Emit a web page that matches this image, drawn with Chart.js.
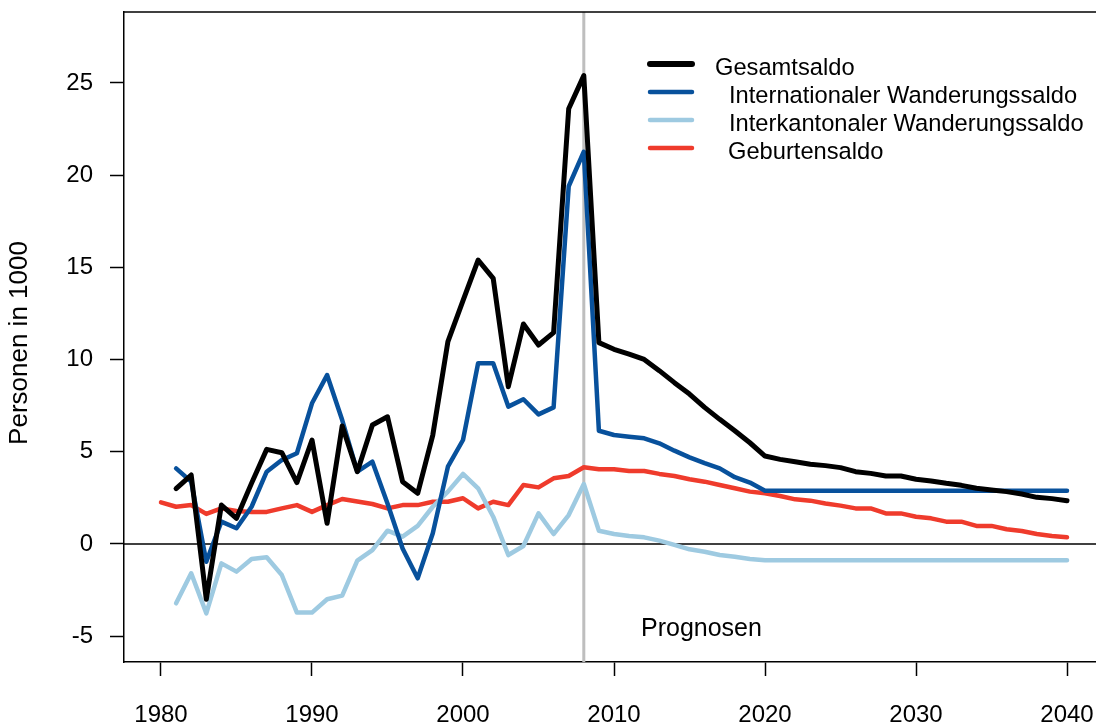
<!DOCTYPE html>
<html>
<head>
<meta charset="utf-8">
<script src="https://cdn.jsdelivr.net/npm/chart.js@4/dist/chart.umd.min.js"></script>
<style>
  html, body { margin: 0; padding: 0; background: #fff; }
  #wrap { width: 1096px; height: 724px; }
</style>
</head>
<body>
<div id="wrap"><canvas id="saldoChart" width="1096" height="724"></canvas></div>
<script>
const years = [];
for (let y = 1980; y <= 2040; y++) years.push(y);

const gesamtsaldo = [null, 3.0, 3.74, -3.0, 2.11, 1.39, 3.3, 5.13, 4.95, 3.33,
  5.64, 1.12, 6.4, 3.92, 6.45, 6.9, 3.38, 2.75, 5.91, 10.97,
  13.2, 15.4, 14.4, 8.53, 11.93, 10.79, 11.46, 23.6, 25.4, 10.92,
  10.56, 10.3, 10.01, 9.4, 8.75, 8.13, 7.41, 6.76, 6.14, 5.49,
  4.77, 4.59, 4.46, 4.32, 4.25, 4.14, 3.92, 3.83, 3.69, 3.69,
  3.51, 3.42, 3.29, 3.18, 3.02, 2.93, 2.84, 2.71, 2.53, 2.46,
  2.35];

const international = [null, 4.1, 3.38, -0.96, 1.21, 0.85, 2.02, 3.92, 4.55, 4.92,
  7.63, 9.16, 6.72, 3.92, 4.46, 2.2, -0.24, -1.86, 0.58, 4.19,
  5.64, 9.8, 9.8, 7.45, 7.85, 7.03, 7.41, 19.4, 21.27, 6.14,
  5.91, 5.82, 5.73, 5.46, 5.06, 4.7, 4.38, 4.1, 3.62, 3.33,
  2.89, 2.89, 2.89, 2.89, 2.89, 2.89, 2.89, 2.89, 2.89, 2.89,
  2.89, 2.89, 2.89, 2.89, 2.89, 2.89, 2.89, 2.89, 2.89, 2.89,
  2.89];

const interkantonal = [null, -3.22, -1.59, -3.76, -1.05, -1.5, -0.81, -0.72, -1.68, -3.72,
  -3.72, -3.0, -2.8, -0.9, -0.33, 0.72, 0.4, 0.98, 2.02, 2.84,
  3.8, 3.02, 1.48, -0.6, -0.11, 1.66, 0.54, 1.57, 3.25, 0.72,
  0.54, 0.43, 0.36, 0.18, -0.05, -0.29, -0.42, -0.6, -0.69, -0.81,
  -0.88, -0.88, -0.88, -0.88, -0.88, -0.88, -0.88, -0.88, -0.88, -0.88,
  -0.88, -0.88, -0.88, -0.88, -0.88, -0.88, -0.88, -0.88, -0.88, -0.88,
  -0.88];

const geburten = [2.26, 2.02, 2.11, 1.63, 1.93, 1.79, 1.74, 1.74, 1.93, 2.11,
  1.74, 2.11, 2.44, 2.3, 2.17, 1.93, 2.11, 2.11, 2.29, 2.29,
  2.48, 1.93, 2.29, 2.11, 3.2, 3.07, 3.56, 3.69, 4.16, 4.05,
  4.05, 3.96, 3.96, 3.8, 3.69, 3.51, 3.38, 3.2, 3.02, 2.84,
  2.75, 2.6, 2.42, 2.35, 2.2, 2.08, 1.93, 1.93, 1.66, 1.66,
  1.48, 1.39, 1.21, 1.21, 0.98, 0.98, 0.8, 0.7, 0.54, 0.43,
  0.36];

const xTicks = [1980, 1990, 2000, 2010, 2020, 2030, 2040];
const yTicks = [-5, 0, 5, 10, 15, 20, 25];
const seriesLabels = ['Gesamtsaldo', 'Internationaler Wanderungssaldo', 'Interkantonaler Wanderungssaldo', 'Geburtensaldo'];
const seriesColors = ['#000000', '#08519c', '#9ecae1', '#ef3b2c'];
const prognoseJahr = 2008;

const FONT = "'Liberation Sans', Arial, Helvetica, sans-serif";

function toPoints(vals) {
  return years.map((y, i) => ({ x: y, y: vals[i] }));
}

function lineSet(i, vals, width) {
  return {
    label: seriesLabels[i],
    data: toPoints(vals),
    borderColor: seriesColors[i],
    borderWidth: width,
    pointRadius: 0,
    fill: false,
    tension: 0,
    spanGaps: false,
    borderCapStyle: 'round',
    borderJoinStyle: 'round'
  };
}

// no extra room for edge labels, the box is placed by hand
function noEdgePadding(scale) {
  scale.paddingTop = 0;
  scale.paddingBottom = 0;
  scale.paddingLeft = 0;
  scale.paddingRight = 0;
}

// Extra Beschriftungen: Rahmen, Null-Linie, Prognose-Linie, Legende
const extras = {
  id: 'extras',
  beforeDatasetsDraw(chart) {
    const { ctx, chartArea, scales } = chart;
    ctx.save();
    // grey line at start of projections
    const px = scales.x.getPixelForValue(prognoseJahr);
    ctx.strokeStyle = '#bebebe';
    ctx.lineWidth = 3;
    ctx.beginPath();
    ctx.moveTo(px, chartArea.top);
    ctx.lineTo(px, chartArea.bottom);
    ctx.stroke();
    // zero line
    const py = scales.y.getPixelForValue(0);
    ctx.strokeStyle = '#000';
    ctx.lineWidth = 1.5;
    ctx.beginPath();
    ctx.moveTo(chartArea.left, py);
    ctx.lineTo(chartArea.right, py);
    ctx.stroke();
    // top border of box
    ctx.beginPath();
    ctx.moveTo(chartArea.left, chartArea.top);
    ctx.lineTo(chartArea.right, chartArea.top);
    ctx.stroke();
    ctx.restore();
  },
  afterDraw(chart) {
    const { ctx } = chart;
    ctx.save();
    ctx.fillStyle = '#000';
    ctx.textBaseline = 'middle';

    // y axis title
    ctx.save();
    ctx.font = '26px ' + FONT;
    ctx.translate(20, 343);
    ctx.rotate(-Math.PI / 2);
    ctx.textAlign = 'center';
    ctx.fillText('Personen in 1000', 0, 0);
    ctx.restore();

    // Prognosen
    ctx.font = '25px ' + FONT;
    ctx.textAlign = 'left';
    ctx.fillText('Prognosen', 641, 629);

    // legend
    ctx.font = '23.7px ' + FONT;
    const textX = [715, 729, 729, 728];
    chart.data.datasets.forEach((ds, i) => {
      const ly = 64 + i * 28;
      ctx.strokeStyle = ds.borderColor;
      ctx.lineWidth = i === 0 ? 6 : 4.5;
      ctx.lineCap = 'round';
      ctx.beginPath();
      ctx.moveTo(650, ly);
      ctx.lineTo(692, ly);
      ctx.stroke();
      ctx.fillText(ds.label, textX[i], ly + 4);
    });
    ctx.restore();
  }
};

const ctx = document.getElementById('saldoChart').getContext('2d');
const saldoChart = new Chart(ctx, {
  type: 'line',
  data: {
    datasets: [
      lineSet(0, gesamtsaldo, 5),
      lineSet(1, international, 4.5),
      lineSet(2, interkantonal, 4.5),
      lineSet(3, geburten, 4.5)
    ]
  },
  options: {
    responsive: false,
    animation: false,
    devicePixelRatio: 1,
    layout: { padding: { top: 12, right: 0, left: 0, bottom: 0 } },
    plugins: {
      legend: { display: false },
      tooltip: { enabled: false }
    },
    scales: {
      x: {
        type: 'linear',
        min: 1977.55,
        max: 2041.92,
        afterBuildTicks(scale) { scale.ticks = xTicks.map(v => ({ value: v })); },
        afterFit(scale) { scale.height = 62; noEdgePadding(scale); },
        grid: { drawOnChartArea: false, drawTicks: true, tickLength: 14, color: '#000', tickWidth: 1.5 },
        border: { display: true, color: '#000', width: 1.5 },
        ticks: {
          font: { family: FONT, size: 24 },
          color: '#000',
          padding: 25,
          maxRotation: 0,
          autoSkip: false,
          callback: v => String(v)
        }
      },
      y: {
        type: 'linear',
        min: -6.4,
        max: 28.85,
        afterBuildTicks(scale) { scale.ticks = yTicks.map(v => ({ value: v })); },
        afterFit(scale) { scale.width = 124; noEdgePadding(scale); },
        grid: { drawOnChartArea: false, drawTicks: true, tickLength: 14, color: '#000', tickWidth: 1.5 },
        border: { display: true, color: '#000', width: 1.5 },
        ticks: {
          font: { family: FONT, size: 24 },
          color: '#000',
          padding: 17,
          autoSkip: false,
          callback: v => String(v)
        }
      }
    }
  },
  plugins: [extras]
});
</script>
</body>
</html>
